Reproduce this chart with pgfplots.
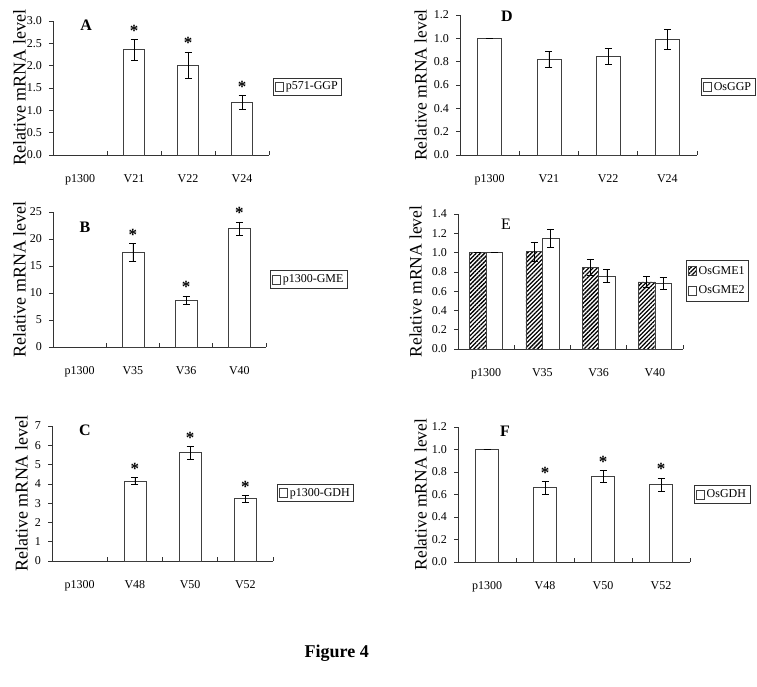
\documentclass[border=0pt]{standalone}
\usepackage{fontspec}
\setmainfont{Liberation Serif}
\usepackage{pgfplots}
\pgfplotsset{compat=1.18}
\usetikzlibrary{patterns.meta}

\pgfplotsset{
  panel/.style={
    scale only axis, anchor=south west, clip=false,
    axis x line=bottom, axis y line=left,
    axis line style={-, black!80, line width=0.6bp},
    xmin=-0.5, xmax=3.5, ymin=0,
    xtick={0,1,2,3},
    major x tick style={draw=none},
    minor xtick={0.5,1.5,2.5,3.5},
    minor x tick style={black!80, line width=0.6bp},
    xtick align=inside, ytick align=outside,
    major tick length=4bp, minor tick length=4bp,
    ytick style={black!80, line width=0.6bp},
    tick label style={font=\fontsize{12bp}{14bp}\selectfont},
    /pgf/number format/assume math mode=true,
    xticklabel style={anchor=base, yshift=-28bp},
    yticklabel style={anchor=east, inner sep=0pt, xshift=-7bp},
    ylabel={Relative mRNA level},
    ylabel style={anchor=south, inner sep=0pt, font=\fontsize{18bp}{20bp}\selectfont},
    legend style={anchor=west, draw=black!80, line width=0.6bp,
      font=\fontsize{12bp}{14bp}\selectfont, inner xsep=2bp, inner ysep=2bp},
    legend cell align=left,
  },
  barplot/.style={ybar, bar width=#1, fill=white, draw=black!75, line width=0.6bp,
    error bars/y dir=both, error bars/y explicit,
    error bars/error bar style={black, line width=0.6bp},
    error bars/error mark options={rotate=90, mark size=3.5bp, black, line width=0.6bp}},
  keybox/.style={legend image code/.code={\draw[##1, draw=black!75, line width=0.5bp] (0bp,-4.5bp) rectangle (8bp,4.5bp);}},
  onedec/.style={yticklabel style={/pgf/number format/.cd, fixed, fixed zerofill, precision=1}},
}
\tikzset{star/.style={anchor=base, inner sep=0pt, yshift=3bp, font=\bfseries\fontsize{17bp}{17bp}\selectfont},
  plabel/.style={inner sep=0pt, font=\bfseries\fontsize{16bp}{16bp}\selectfont}}

\begin{document}
\begin{tikzpicture}
\useasboundingbox (0bp,0bp) rectangle (757bp,687bp);

% ---------- A ----------
\begin{axis}[panel, onedec, at={(53bp,532bp)}, width=216bp, height=134bp,
  ymax=3, ytick={0,0.5,1,1.5,2,2.5,3},
  xticklabels={p1300,V21,V22,V24},
  ylabel style={at={(axis description cs:-0.125,0.5)}},
  legend style={at={(axis description cs:1.0185,0.511)}}]
\addplot[keybox, barplot=21bp] table[x=x, y=y, y error=e] {
x y e
1 2.36 0.23
2 2.01 0.30
3 1.18 0.15
};
\legend{p571-GGP}
\node[plabel] at (rel axis cs:0.153,0.97) {A};
\node[star] at (axis cs:1,2.59) {*};
\node[star] at (axis cs:2,2.31) {*};
\node[star] at (axis cs:3,1.33) {*};
\end{axis}

% ---------- D ----------
\begin{axis}[panel, onedec, at={(460bp,532bp)}, width=237bp, height=140bp,
  ymax=1.2, ytick={0,0.2,0.4,0.6,0.8,1.0,1.2},
  xticklabels={p1300,V21,V22,V24},
  ylabel style={at={(axis description cs:-0.139,0.5)}, font=\fontsize{17.5bp}{20bp}\selectfont},
  legend style={at={(axis description cs:1.017,0.486)}}]
\addplot[keybox, barplot=24bp] table[x=x, y=y, y error=e] {
x y e
0 1.00 0
1 0.82 0.07
2 0.845 0.07
3 0.99 0.085
};
\legend{OsGGP}
\node[plabel] at (rel axis cs:0.198,0.99) {D};
\end{axis}

% ---------- B ----------
\begin{axis}[panel, at={(53bp,340bp)}, width=213bp, height=135bp,
  ymax=25, ytick={0,5,10,15,20,25},
  xticklabels={p1300,V35,V36,V40},
  ylabel style={at={(axis description cs:-0.127,0.5)}},
  legend style={at={(axis description cs:1.019,0.5)}}]
\addplot[keybox, barplot=22bp] table[x=x, y=y, y error=e] {
x y e
1 17.6 1.65
2 8.68 0.8
3 21.96 1.2
};
\legend{p1300-GME}
\node[plabel] at (rel axis cs:0.15,0.89) {B};
\node[star] at (axis cs:1,19.25) {*};
\node[star] at (axis cs:2,9.48) {*};
\node[star] at (axis cs:3,23.16) {*};
\end{axis}

% ---------- E ----------
\begin{axis}[panel, onedec, at={(458bp,338bp)}, width=225bp, height=135bp,
  ymax=1.4, ytick={0,0.2,0.4,0.6,0.8,1.0,1.2,1.4},
  xticklabels={p1300,V35,V36,V40},
  ylabel style={at={(axis description cs:-0.16,0.5)}, font=\fontsize{17.5bp}{20bp}\selectfont},
  legend style={at={(axis description cs:1.013,0.504)}, row sep=6bp, inner ysep=4bp}]
\addplot[keybox, barplot=16.5bp, bar shift=0pt,
  pattern={Lines[angle=45, distance=3bp, line width=1.3bp]}, pattern color=black]
  table[x=x, y=y, y error=e] {
x y e
-0.1467 1.00 0
0.8533 1.01 0.10
1.8533 0.85 0.085
2.8533 0.695 0.06
};
\addplot[keybox, barplot=16.5bp, bar shift=0pt] table[x=x, y=y, y error=e] {
x y e
0.1467 1.00 0
1.1467 1.15 0.095
2.1467 0.757 0.07
3.1467 0.68 0.065
};
\legend{OsGME1, OsGME2}
\node[inner sep=0pt, font=\fontsize{16bp}{16bp}\selectfont] at (rel axis cs:0.213,0.926) {E};
\end{axis}

% ---------- C ----------
\begin{axis}[panel, at={(52bp,126bp)}, width=221bp, height=135bp,
  ymax=7, ytick={0,1,2,3,4,5,6,7},
  xticklabels={p1300,V48,V50,V52},
  ylabel style={at={(axis description cs:-0.109,0.5)}},
  legend style={at={(axis description cs:1.018,0.504)}}]
\addplot[keybox, barplot=22bp] table[x=x, y=y, y error=e] {
x y e
1 4.15 0.17
2 5.62 0.33
3 3.23 0.17
};
\legend{p1300-GDH}
\node[plabel] at (rel axis cs:0.149,0.97) {C};
\node[star] at (axis cs:1,4.32) {*};
\node[star] at (axis cs:2,5.95) {*};
\node[star] at (axis cs:3,3.40) {*};
\end{axis}

% ---------- F ----------
\begin{axis}[panel, onedec, at={(458bp,125bp)}, width=232bp, height=135bp,
  ymax=1.2, ytick={0,0.2,0.4,0.6,0.8,1.0,1.2},
  xticklabels={p1300,V48,V50,V52},
  ylabel style={at={(axis description cs:-0.134,0.5)}, font=\fontsize{17.5bp}{20bp}\selectfont},
  legend style={at={(axis description cs:1.017,0.5)}}]
\addplot[keybox, barplot=23bp] table[x=x, y=y, y error=e] {
x y e
0 1.00 0
1 0.66 0.058
2 0.759 0.055
3 0.687 0.06
};
\legend{OsGDH}
\node[plabel] at (rel axis cs:0.203,0.97) {F};
\node[star] at (axis cs:1,0.718) {*};
\node[star] at (axis cs:2,0.814) {*};
\node[star] at (axis cs:3,0.747) {*};
\end{axis}

\node[font=\bfseries\fontsize{18bp}{18bp}\selectfont] at (336.7bp,33.7bp) {Figure 4};
\end{tikzpicture}
\end{document}
